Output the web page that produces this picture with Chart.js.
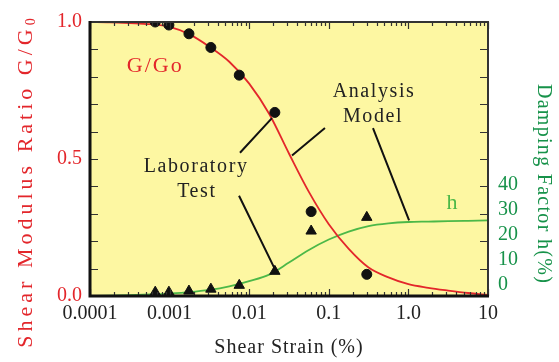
<!DOCTYPE html>
<html>
<head>
<meta charset="utf-8">
<script src="https://cdn.jsdelivr.net/npm/chart.js@4.4.1/dist/chart.umd.min.js"></script>
<style>
  html,body{margin:0;padding:0;background:#fff;}
  canvas{display:block;}
</style>
</head>
<body>
<canvas id="chart" width="559" height="362"></canvas>
<script>
// model curves (shear strain %, G/Go, damping %)
const strain = [0.0001,0.000178,0.000316,0.000562,0.001,0.00178,0.00316,0.00562,0.01,0.0178,0.0316,0.0562,0.1,0.178,0.316,0.562,1,1.78,3.16,5.62,10];
const ratioModel = [1.0,0.999,0.996,0.992,0.982,0.955,0.91,0.855,0.775,0.665,0.52,0.38,0.262,0.172,0.104,0.068,0.043,0.03,0.02,0.011,0.004];
const dampModel = [0,0.12,0.3,0.55,0.9,1.4,2.2,3.5,5.4,7.8,12.2,16.8,20.6,23.5,25.5,26.5,27.0,27.15,27.3,27.45,27.6];

// laboratory test points
const labStrain = [0.00066,0.00098,0.00175,0.0033,0.0075,0.021,0.06,0.30];
const labRatio = [1.0,0.989,0.957,0.907,0.806,0.670,0.308,0.079];
const labDamp = [1.4,1.4,1.8,2.5,3.9,9.0,23.7,28.7];

const xLabels = ['0.0001','0.001','0.01','0.1','1.0','10'];
const dampTicks = [0,10,20,30,40];

const RED = '#e3262b', GREEN = '#4cb848', GREEN_TXT = '#17924a';
const FONT = '"Liberation Serif","DejaVu Serif",serif';

// annotations, in data coords (strain, G/Go)
const notes = [
  {t:'G/Go', x:0.00066, y:0.839, c:RED, s:22, ls:2},
  {t:'h', x:3.53, y:0.34, c:GREEN, s:22, ls:0},
  {t:'Analysis', x:0.37, y:0.746, c:'#222', s:20, ls:1.6},
  {t:'Model', x:0.36, y:0.656, c:'#222', s:20, ls:1.6},
  {t:'Laboratory', x:0.00215, y:0.47, c:'#222', s:20, ls:1.6},
  {t:'Test', x:0.0022, y:0.38, c:'#222', s:20, ls:1.6}
];
const leaders = [
  [0.00766,0.523,0.0193,0.649],
  [0.00745,0.366,0.0211,0.097],
  [0.0345,0.513,0.0895,0.613],
  [0.359,0.613,1.02,0.276]
];

const pts = (xs,ys) => xs.map((x,i)=>({x, y:ys[i]}));

const frame = {
  id:'frame',
  beforeDraw(c){
    const a = c.chartArea, ctx = c.ctx;
    ctx.save();
    ctx.fillStyle = '#fdf7a2';
    ctx.fillRect(a.left, a.top, a.right-a.left, a.bottom-a.top);
    ctx.restore();
  },
  afterDraw(c){
    const a = c.chartArea, ctx = c.ctx, sx = c.scales.x, sy = c.scales.y;
    ctx.save();
    // inner ticks
    ctx.strokeStyle = '#333';
    ctx.lineWidth = 1.2;
    ctx.beginPath();
    for(let e=-4;e<=1;e++){
      for(let m=1;m<=9;m++){
        const v = m*Math.pow(10,e);
        if(v>10.0001) break;
        const px = Math.round(sx.getPixelForValue(v))+0.5;
        const len = m===1 ? 7 : 4;
        ctx.moveTo(px,a.top); ctx.lineTo(px,a.top+len);
        ctx.moveTo(px,a.bottom); ctx.lineTo(px,a.bottom-len);
      }
    }
    for(let k=1;k<10;k++){
      const py = Math.round(sy.getPixelForValue(k/10))+0.5;
      ctx.moveTo(a.left,py); ctx.lineTo(a.left+8,py);
      ctx.moveTo(a.right,py); ctx.lineTo(a.right-8,py);
    }
    ctx.stroke();
    // frame
    ctx.strokeStyle = '#333'; ctx.lineWidth = 2;
    ctx.beginPath();
    ctx.moveTo(a.left,a.top); ctx.lineTo(a.right,a.top); ctx.lineTo(a.right,a.bottom);
    ctx.stroke();
    ctx.strokeStyle = '#111'; ctx.lineWidth = 3;
    ctx.beginPath();
    ctx.moveTo(a.left,a.top-1); ctx.lineTo(a.left,a.bottom); ctx.lineTo(a.right+1,a.bottom);
    ctx.stroke();

    // leader lines
    ctx.strokeStyle = '#111'; ctx.lineWidth = 2;
    ctx.beginPath();
    for(const l of leaders){
      ctx.moveTo(sx.getPixelForValue(l[0]), sy.getPixelForValue(l[1]));
      ctx.lineTo(sx.getPixelForValue(l[2]), sy.getPixelForValue(l[3]));
    }
    ctx.stroke();

    // notes
    ctx.textAlign = 'center'; ctx.textBaseline = 'middle';
    for(const n of notes){
      ctx.font = n.s+'px '+FONT;
      ctx.letterSpacing = n.ls+'px';
      ctx.fillStyle = n.c;
      ctx.fillText(n.t, sx.getPixelForValue(n.x), sy.getPixelForValue(n.y));
    }

    // axis titles
    ctx.letterSpacing = '1px';
    ctx.font = '20px '+FONT; ctx.fillStyle = '#222';
    ctx.fillText('Shear Strain (%)', (a.left+a.right)/2, 348);

    ctx.save();
    ctx.translate(26,181); ctx.rotate(-Math.PI/2);
    ctx.fillStyle = RED; ctx.textAlign = 'left';
    ctx.font = '22px '+FONT; ctx.letterSpacing = '4px';
    const main = 'Shear Modulus Ratio G/G';
    const w = ctx.measureText(main).width;
    ctx.font = '14px '+FONT;
    const sw = ctx.measureText('0').width;
    const x0 = -(w+sw)/2;
    ctx.font = '22px '+FONT;
    ctx.fillText(main, x0, 0);
    ctx.font = '14px '+FONT;
    ctx.fillText('0', x0+w, 5);
    ctx.restore();

    ctx.save();
    ctx.translate(543,184); ctx.rotate(Math.PI/2);
    ctx.fillStyle = GREEN_TXT; ctx.textAlign = 'center';
    ctx.font = '20px '+FONT; ctx.letterSpacing = '1.3px';
    ctx.fillText('Damping Factor h(%)', 0, 0);
    ctx.restore();

    ctx.restore();
  }
};

new Chart(document.getElementById('chart'), {
  type:'line',
  data:{
    datasets:[
      {data:pts(strain,ratioModel), yAxisID:'y', borderColor:RED, borderWidth:1.8, pointRadius:0, cubicInterpolationMode:'monotone', order:3},
      {data:pts(strain,dampModel), yAxisID:'yd', borderColor:GREEN, borderWidth:1.8, pointRadius:0, cubicInterpolationMode:'monotone', order:4},
      {data:pts(labStrain,labRatio), yAxisID:'y', showLine:false, pointStyle:'circle', pointRadius:5, pointBackgroundColor:'#111', pointBorderColor:'#111', order:1},
      {data:pts(labStrain,labDamp), yAxisID:'yd', showLine:false, pointStyle:'triangle', pointRadius:6, pointBackgroundColor:'#111', pointBorderColor:'#111', order:2}
    ]
  },
  options:{
    responsive:false,
    devicePixelRatio:1,
    animation:false,
    layout:{padding:{top:17,left:0,right:0,bottom:0}},
    plugins:{legend:{display:false}, tooltip:{enabled:false}},
    scales:{
      x:{
        type:'logarithmic', min:0.0001, max:10, position:'bottom',
        grid:{display:false, drawTicks:false}, border:{display:false},
        afterFit(s){ s.height = 66; },
        ticks:{
          autoSkip:false, maxRotation:0, padding:6, color:'#222',
          font:{family:FONT, size:20},
          callback(v){
            const l = Math.log10(v);
            if(Math.abs(l-Math.round(l))>1e-6) return '';
            return xLabels[Math.round(l)+4];
          }
        }
      },
      y:{
        min:0, max:1, position:'left',
        grid:{display:false, drawTicks:false}, border:{display:false},
        afterFit(s){ s.width = 90; },
        ticks:{stepSize:0.5, padding:8, color:RED, font:{family:FONT, size:20}, callback:v=>Number(v).toFixed(1)}
      },
      yd:{min:0, max:100, position:'right', display:false},
      yl:{
        min:-4.3, max:105.1, position:'right',
        grid:{display:false, drawTicks:false}, border:{display:false},
        afterFit(s){ s.width = 71; },
        afterBuildTicks(s){ s.ticks = dampTicks.map(v=>({value:v})); },
        ticks:{padding:10, color:GREEN_TXT, font:{family:FONT, size:20}}
      }
    }
  },
  plugins:[frame]
});
</script>
</body>
</html>
